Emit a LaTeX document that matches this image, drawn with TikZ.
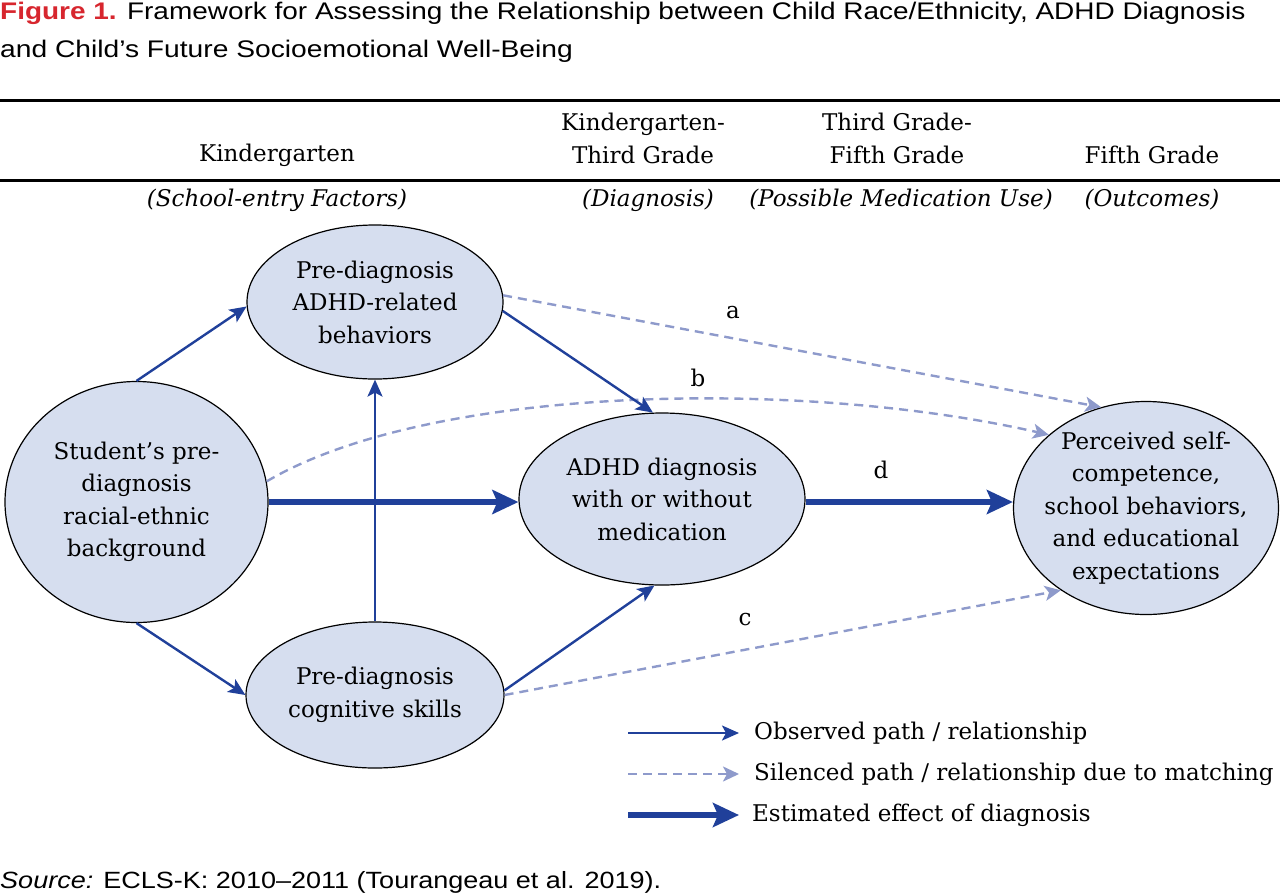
\documentclass[tikz,border=0pt]{standalone}
\usepackage{fontspec}
\usepackage{graphicx}
\setmainfont{DejaVu Serif}
\setsansfont{Liberation Sans}
\usetikzlibrary{arrows.meta,shapes.geometric}
\definecolor{dblue}{HTML}{20409A}
\definecolor{lblue}{HTML}{8E9ACB}
\definecolor{efill}{HTML}{D6DEEF}
\definecolor{tred}{HTML}{D7262E}
\begin{document}
\begin{tikzpicture}[x=1pt,y=-1pt,
  bub/.style={ellipse, draw=black, line width=1.2pt, fill=efill, inner sep=0pt, align=center,
    font=\fontsize{23}{32.5}\selectfont},
  hdr/.style={align=center, font=\fontsize{23}{33}\selectfont},
  ihdr/.style={font=\fontsize{23}{33}\selectfont\itshape},
  lbl/.style={font=\fontsize{23}{33}\selectfont},
  obs/.style={draw=dblue, line width=2.4pt, -{Stealth[length=17pt,width=15pt,inset=4pt]}},
  est/.style={draw=dblue, line width=6.5pt, -{Stealth[length=26pt,width=24pt,inset=5pt]}},
  sil/.style={draw=lblue, line width=2.4pt, dash pattern=on 9pt off 6pt, -{Stealth[length=16pt,width=15pt,inset=4pt]}},
]
\useasboundingbox (0,0) rectangle (1280,895);
% title
\node[anchor=base west, inner sep=0pt, font=\sffamily\fontsize{24}{35}\selectfont] (t1) at (0,19)
  {\scalebox{1.165}[1]{\textcolor{tred}{\textbf{Figure 1.}} Framework for Assessing the Relationship between Child Race/Ethnicity, ADHD Diagnosis}};
\node[anchor=base west, inner sep=0pt, font=\sffamily\fontsize{24}{35}\selectfont] (t2) at (0,57)
  {\scalebox{1.175}[1]{and Child's Future Socioemotional Well-Being}};
% rules
\draw[line width=3pt] (0,100) -- (1280,100);
\draw[line width=3pt] (0,180) -- (1280,180);
% headers
\node[hdr] (h1) at (277,155) {Kindergarten};
\node[hdr] (h2) at (643,138.5) {Kindergarten-\\Third Grade};
\node[hdr] (h3) at (897,138.5) {Third Grade-\\Fifth Grade};
\node[hdr] (h4) at (1152,155) {Fifth Grade};
\node[ihdr] (i1) at (277,200) {(School-entry Factors)};
\node[ihdr] (i2) at (648,200) {(Diagnosis)};
\node[ihdr] (i3) at (901,200) {(Possible Medication Use)};
\node[ihdr] (i4) at (1152,200) {(Outcomes)};
% ellipses
\node[bub, minimum width=263pt, minimum height=241pt] (stud) at (136.5,502) {Student's pre-\\diagnosis\\racial-ethnic\\background};
\node[bub, minimum width=256pt, minimum height=154pt] (beh) at (375,302) {Pre-diagnosis\\ADHD-related\\behaviors};
\node[bub, minimum width=258pt, minimum height=146pt] (cog) at (375,695) {Pre-diagnosis\\cognitive skills};
\node[bub, minimum width=286pt, minimum height=172pt] (diag) at (662,499) {ADHD diagnosis\\with or without\\medication};
\node[bub, inner sep=-20pt, minimum width=265pt, minimum height=213pt] (perc) at (1146,508) {Perceived self-\\competence,\\school behaviors,\\and educational\\expectations};
% silenced paths
\draw[sil] (beh.3) -- (perc.114);
\draw[sil] (stud.9) .. controls (430,385) and (800,378) .. (perc.143);
\draw[sil] (cog.0) -- (perc.224);
% observed paths
\draw[obs] (stud.north) -- (beh.182);
\draw[obs] (stud.south) -- (cog.west);
\draw[obs] (beh.-4) -- (diag.96);
\draw[obs] (cog.north) -- (beh.south);
\draw[obs] (cog.2) -- (diag.-95);
% estimated effects
\draw[est] (stud.east) -- (stud.east -| diag.west);
\draw[est] (stud.east -| diag.east) -- (stud.east -| perc.west);
% labels
\node[lbl] (la) at (733,313) {a};
\node[lbl] (lb) at (698,378) {b};
\node[lbl] (lc) at (745,620) {c};
\node[lbl] (ld) at (881,470) {d};
% legend
\coordinate (o1) at (628,733); \coordinate (o2) at (739,733);
\coordinate (s1) at (628,774); \coordinate (s2) at (739,774);
\coordinate (e1) at (628,815); \coordinate (e2) at (739,815);
\draw[obs] (o1) -- (o2);
\draw[sil] (s1) -- (s2);
\draw[est] (e1) -- (e2);
\node[lbl, anchor=west, inner sep=0pt] (lo) at (754,733) {Observed path / relationship};
\node[lbl, anchor=west, inner sep=0pt] (ls) at (754,774) {Silenced path / relationship due to matching};
\node[lbl, anchor=west, inner sep=0pt] (le) at (752,815) {Estimated effect of diagnosis};
% source
\node[anchor=base west, inner sep=0pt, font=\sffamily\fontsize{23.5}{30}\selectfont] (src) at (0,888)
  {\scalebox{1.15}[1]{\textit{Source:} ECLS-K: 2010–2011 (Tourangeau et al. 2019).}};
\end{tikzpicture}
\end{document}
